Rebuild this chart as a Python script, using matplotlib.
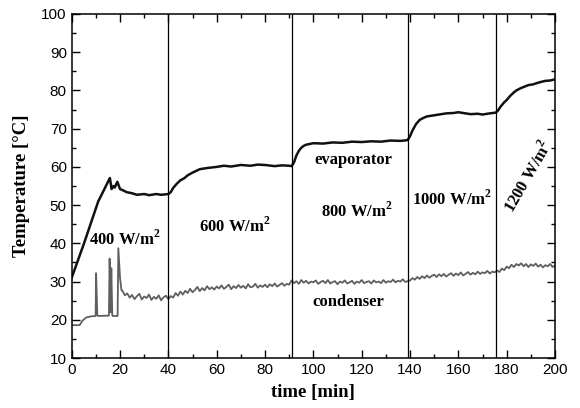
import matplotlib
matplotlib.use("Agg")
import matplotlib.pyplot as plt
import numpy as np

plt.rcParams['mathtext.fontset'] = 'custom'
plt.rcParams['mathtext.rm'] = 'Liberation Serif:bold'
plt.rcParams['mathtext.bf'] = 'Liberation Serif:bold'

# evaporator temperature (time [min], T [C])
evap_t = [0, 5, 11, 11.5, 15.8, 16.5, 17.3, 17.8, 18.9, 20, 21.5, 22.7, 25, 27, 30, 32, 35, 37, 40,
          41, 42, 43.5, 45, 46.5, 48, 50, 53, 56, 60, 63, 66, 70, 74, 77, 80, 84, 87, 90, 91,
          92, 93, 94, 95, 96, 97, 100, 104, 108, 112, 116, 120, 124, 128, 132, 136, 139,
          140, 141, 142.5, 144, 145.5, 147, 149, 151, 155, 158, 160, 163, 165, 168, 170, 173, 175.5,
          176.5, 177.5, 179, 180, 181.5, 183, 184, 185.5, 187, 189, 191, 192.4, 194, 196, 198, 200]
evap_T = [31, 39.8, 51.0, 51.6, 57.1, 54.2, 55.0, 54.6, 56.1, 54.2, 53.8, 53.4, 53.1, 52.7, 52.9, 52.6, 52.9, 52.7, 52.9,
          53.4, 54.5, 55.6, 56.5, 57.0, 57.8, 58.5, 59.4, 59.7, 60.0, 60.3, 60.1, 60.5, 60.3, 60.6, 60.5, 60.2, 60.4, 60.3, 60.2,
          61.2, 63.0, 64.2, 65.0, 65.5, 65.8, 66.2, 66.1, 66.4, 66.3, 66.6, 66.5, 66.7, 66.6, 66.9, 66.8, 67.0,
          68.0, 69.5, 71.2, 72.3, 72.8, 73.2, 73.4, 73.6, 74.0, 74.1, 74.3, 74.0, 73.8, 73.9, 73.7, 74.0, 74.2,
          74.8, 75.8, 76.9, 77.5, 78.6, 79.5, 80.0, 80.5, 80.9, 81.4, 81.6, 81.9, 82.2, 82.5, 82.6, 82.9]

# condenser temperature, start-up part with the spikes
cond_t0 = [0, 3.3, 4.5, 6, 8, 9.9, 10.1, 10.6, 11, 15.4, 15.7, 16.1, 16.4, 16.8, 17, 19.0, 19.3, 20, 20.6]
cond_T0 = [18.6, 18.6, 19.8, 20.6, 20.9, 21.0, 32.2, 21.2, 21.0, 21.1, 36.0, 22.0, 33.5, 21.2, 21.0, 21.0, 38.7, 31.0, 27.7]

# condenser temperature, one reading per minute from 21 to 200 min
cond_T1 = [27.6, 26.4, 26.9, 25.8, 26.5, 25.4, 26.2, 26.8, 25.3, 26.1, 25.7, 26.6, 25.2, 26.0, 25.5, 26.4, 25.1, 25.9, 26.3, 25.4,
           26.2, 25.8, 27.0, 26.3, 27.4, 26.6, 27.6, 27.0, 28.1, 27.2, 27.8, 28.6, 27.5, 28.3, 27.7, 28.8, 28.0, 28.5, 27.9, 28.7,
           28.2, 29.0, 28.1, 28.6, 29.2, 28.0, 28.8, 28.3, 29.1, 28.4, 28.9, 28.2, 29.3, 28.5, 28.7, 29.4, 28.4, 29.0, 28.6, 29.2,
           28.5, 29.3, 28.8, 29.5, 28.7, 29.1, 29.6, 28.9, 29.4, 29.2,
           30.3, 29.6, 30.1, 29.4, 30.4, 29.7, 30.2, 29.5, 30.0, 29.8, 30.3, 29.4, 29.9, 30.2, 29.6, 30.4, 29.5, 29.9, 30.1, 29.3,
           30.0, 29.7, 30.3, 29.5, 29.8, 30.2, 29.4, 30.0, 29.7, 30.4, 29.6, 29.9, 30.1, 29.5, 30.3, 29.8, 30.0, 29.6, 30.4, 29.7,
           30.1, 29.9, 30.5, 29.8, 30.2, 30.0, 30.6, 29.9, 30.1,
           30.3, 30.9, 30.5, 31.2, 30.7, 31.4, 30.9, 31.6, 31.0, 31.5, 31.8,
           31.2, 31.9, 31.4, 32.0, 31.3, 31.8, 32.2, 31.5, 32.1, 31.7, 32.4, 31.6, 32.0, 32.5, 31.8, 32.3, 31.9, 32.6, 32.0, 32.4,
           32.2, 32.8, 32.1, 32.6, 32.4,
           32.9, 32.5, 33.4, 33.0, 33.9, 33.5, 34.4, 33.8, 34.6, 34.2,
           34.8, 34.0, 34.6, 33.8, 34.5, 34.1, 34.7, 33.9, 34.4, 33.7, 34.3, 34.0, 34.6, 33.8, 34.2]

# heat flux steps
step_times = [40, 91, 139, 175.5]
flux_labels = ['400', '600', '800', '1000', '1200']
flux_pos = [(22, 41.2), (67.7, 44.5), (117.9, 48.5), (157.2, 51.5), (189, 57.5)]
flux_rot = [0, 0, 0, 0, 60]

cond_t1 = np.linspace(21, 200, len(cond_T1))
cond_t = list(cond_t0) + list(cond_t1)
cond_T = list(cond_T0) + list(cond_T1)

fig = plt.figure(figsize=(5.8, 4.08), dpi=100)
ax = fig.add_axes([0.1236, 0.1225, 0.8333, 0.8432])

ax.plot(cond_t, cond_T, color='#5f5f5f', lw=1.3)
ax.plot(evap_t, evap_T, color='#111111', lw=1.8)
for st in step_times:
    ax.axvline(st, color='black', lw=0.9)

ax.set_xlim(0, 200)
ax.set_ylim(10, 100)
ax.set_xticks(np.arange(0, 201, 20))
ax.set_xticks(np.arange(0, 201, 10), minor=True)
ax.set_yticks(np.arange(10, 101, 10))
ax.set_yticks(np.arange(10, 101, 5), minor=True)
ax.tick_params(which='both', direction='in', top=True, right=True, width=1)
ax.tick_params(which='major', length=6, labelsize=11)
ax.tick_params(which='minor', length=3)
for lab in ax.get_xticklabels() + ax.get_yticklabels():
    lab.set_family('Liberation Sans')
for sp in ax.spines.values():
    sp.set_linewidth(1.1)

serif = dict(family='Liberation Serif', weight='bold')
ax.set_xlabel('time [min]', fontsize=13.5, labelpad=5, **serif)
ax.set_ylabel('Temperature [°C]', fontsize=13.5, labelpad=8, **serif)

for lab, (x, y), r in zip(flux_labels, flux_pos, flux_rot):
    ax.text(x, y, lab + r' W/m$^{\mathbf{2}}$', fontsize=12, rotation=r,
            ha='center', va='center', **serif)
ax.text(116.5, 61.8, 'evaporator', fontsize=12, ha='center', va='center', **serif)
ax.text(114.5, 24.7, 'condenser', fontsize=12, ha='center', va='center', **serif)

fig.savefig('out.png', dpi=100)
